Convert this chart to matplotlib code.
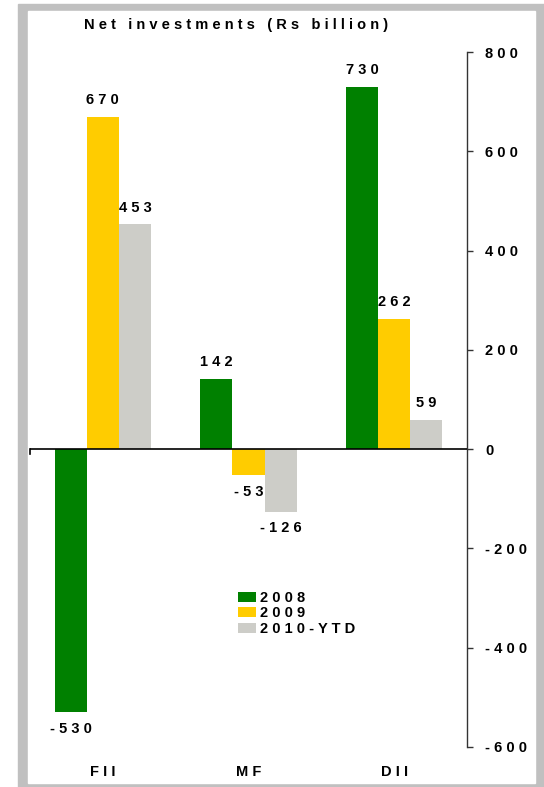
import matplotlib.pyplot as plt
import matplotlib.patches as mpatches
import numpy as np

plt.rcParams['font.family'] = ['Liberation Sans', 'DejaVu Sans']
plt.rcParams['font.weight'] = 'bold'

# data
categories = ['FII', 'MF', 'DII']
series = ['2008', '2009', '2010-YTD']
vals_2008 = [-530, 142, 730]
vals_2009 = [670, -53, 262]
vals_2010 = [453, -126, 59]
colors = ['#008000', '#FFCC00', '#CDCDC8']
yticks = [-600, -400, -200, 0, 200, 400, 600, 800]


def spaced(s):
    # the original chart has wide letter spacing everywhere
    return ' '.join(s)


W, H = 544, 787
fig = plt.figure(figsize=(W / 100, H / 100), dpi=100)

# grey frame around the chart
outer = mpatches.Rectangle((18 / W, 0), (W - 18) / W, (H - 4) / H,
                           transform=fig.transFigure, color='#C0C0C0', zorder=-3)
inner = mpatches.Rectangle((28 / W, 4 / H), (535 - 28) / W, (H - 11 - 4) / H,
                           transform=fig.transFigure, color='white', zorder=-2)
fig.patches.extend([outer, inner])

ax = fig.add_axes([30 / W, 1 - 747 / H, (467 - 30) / W, (747 - 52) / H])
ax.patch.set_alpha(0)

fs = 10.5
x = np.arange(len(categories))
bw = 0.22
all_vals = [vals_2008, vals_2009, vals_2010]
for i, (vals, col, lab) in enumerate(zip(all_vals, colors, series)):
    pos = x + (i - 1) * bw
    ax.bar(pos, vals, width=bw, color=col, label=spaced(lab), zorder=2)
    for px, v in zip(pos, vals):
        off = 12 if v >= 0 else -12
        ax.annotate(spaced(str(v)), (px, v), xytext=(0, off), textcoords='offset points',
                    ha='center', va='center', fontsize=fs, fontweight='bold')

ax.set_xlim(-0.5, 2.5)
ax.set_ylim(-600, 800)
ax.axhline(0, color='black', lw=1.2, zorder=3)
# small tick at the left end of the zero line
ax.plot([-0.5, -0.5], [0, -9], color='black', lw=1.2, zorder=3, clip_on=False)

ax.spines['left'].set_visible(False)
ax.spines['top'].set_visible(False)
ax.spines['bottom'].set_visible(False)
ax.spines['right'].set_color('#333333')
ax.spines['right'].set_linewidth(1)

ax.yaxis.tick_right()
ax.set_yticks(yticks)
ax.set_yticklabels([spaced(str(t)) for t in yticks], fontsize=fs, fontweight='bold')
ax.tick_params(axis='y', direction='out', length=4, width=1, color='#333333', pad=9)

ax.set_xticks(x)
ax.set_xticklabels([spaced(c) for c in categories], fontsize=fs, fontweight='bold')
ax.tick_params(axis='x', length=0, pad=13)

fig.text(236 / W, 1 - 25 / H, spaced('Net investments (Rs billion)'), ha='center', va='center',
         fontsize=fs, fontweight='bold')

fig.legend(loc='upper left', bbox_to_anchor=(238 / W, 1 - 591 / H), frameon=False,
           fontsize=fs, handlelength=1.2, handleheight=0.7, handletextpad=0.3,
           labelspacing=0.1, borderpad=0, borderaxespad=0)

fig.savefig('out.png', dpi=100)
